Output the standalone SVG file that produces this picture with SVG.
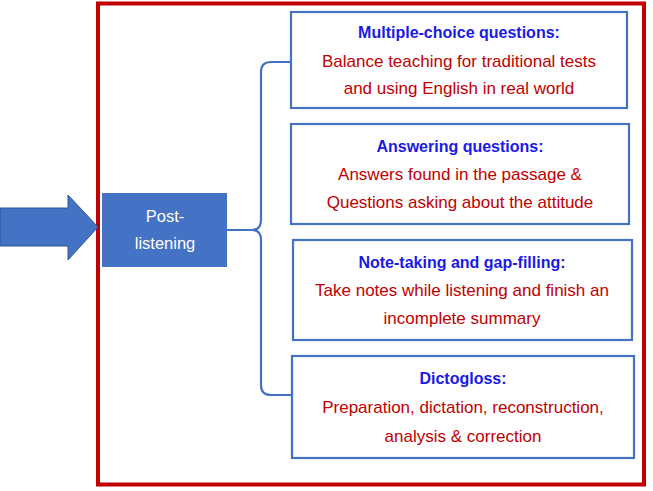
<svg xmlns="http://www.w3.org/2000/svg" width="653" height="491" viewBox="0 0 653 491">
<style>
.box{fill:#fff;stroke:#4472C4;stroke-width:2.2}
.t{font-family:"Liberation Sans",Arial,sans-serif;font-size:16px;font-weight:bold;fill:#1A1AE6;text-anchor:middle}
.b{font-family:"Liberation Sans",Arial,sans-serif;font-size:17px;fill:#C00000;text-anchor:middle}
.w{font-family:"Liberation Sans",Arial,sans-serif;font-size:16.5px;fill:#fff;text-anchor:middle}
</style>
<rect width="653" height="491" fill="#fff"/>
<g id="frame"><rect x="98" y="3.5" width="546" height="481" fill="none" stroke="#C00000" stroke-width="4"/></g>
<g id="arrow"><polygon points="0,208 68,208 68,195 98,227 68,260 68,246 0,246" fill="#4472C4" stroke="#2F5597" stroke-width="1"/></g>
<g id="connectors">
<path d="M227,230 L252,230 Q261,230 261,220 L261,72 Q261,62 271,62 L291,62 M252,230 Q261,230 261,240 L261,385 Q261,395 271,395 L292,395" fill="none" stroke="#4472C4" stroke-width="2.2"/>
</g>
<g id="post"><rect x="102" y="193" width="125" height="74" fill="#4472C4"/>
<text class="w" x="165" y="222">Post-</text><text class="w" x="165" y="249">listening</text></g>
<g id="n1"><rect class="box" x="291" y="12" width="336" height="96"/>
<text class="t" x="459" y="38">Multiple-choice questions:</text>
<text class="b" x="459" y="67">Balance teaching for traditional tests</text>
<text class="b" x="459" y="94">and using English in real world</text></g>
<g id="n2"><rect class="box" x="291" y="124" width="338" height="100"/>
<text class="t" x="460" y="152">Answering questions:</text>
<text class="b" x="460" y="180">Answers found in the passage &amp;</text>
<text class="b" x="460" y="208">Questions asking about the attitude</text></g>
<g id="n3"><rect class="box" x="293" y="240" width="339" height="100"/>
<text class="t" x="462" y="268">Note-taking and gap-filling:</text>
<text class="b" x="462" y="296">Take notes while listening and finish an</text>
<text class="b" x="462" y="324">incomplete summary</text></g>
<g id="n4"><rect class="box" x="292" y="356" width="342" height="102"/>
<text class="t" x="463" y="384">Dictogloss:</text>
<text class="b" x="463" y="413">Preparation, dictation, reconstruction,</text>
<text class="b" x="463" y="442">analysis &amp; correction</text></g>
</svg>
